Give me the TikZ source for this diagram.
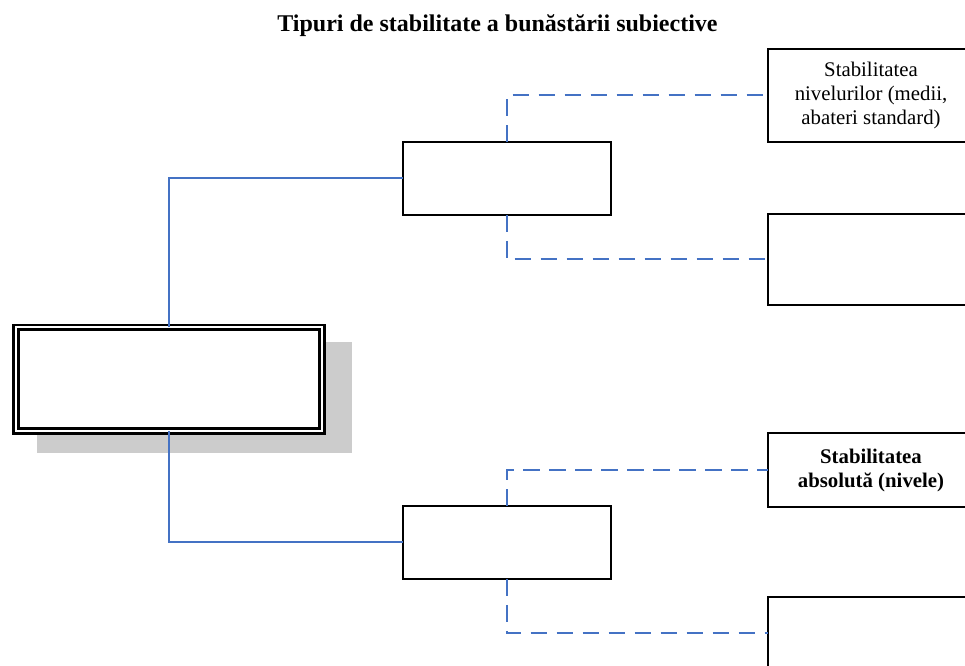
\documentclass[tikz,border=0pt]{standalone}
\usepackage{fontspec}
\setmainfont{Liberation Serif}
\definecolor{linkblue}{RGB}{68,114,196}
\definecolor{shadowgray}{RGB}{204,204,204}
\begin{document}
\begin{tikzpicture}[x=0.75pt,y=-0.75pt,
  box/.style={draw=black,line width=1.1pt,rectangle,inner sep=0pt,outer sep=0pt,anchor=north west,align=center,font=\fontsize{15.6}{18}\selectfont},
  mainbox/.style={draw=black,double=white,line width=1.9pt,double distance=1.5pt,rectangle,inner sep=0pt,outer sep=0pt,anchor=north west},
  solidlink/.style={draw=linkblue,line width=1.5pt},
  dashlink/.style={draw=linkblue,line width=1.5pt,dash pattern=on 12.5pt off 7pt}]
\useasboundingbox (0,0) rectangle (965,666);
\node[font=\bfseries\fontsize{18}{21}\selectfont,anchor=base,inner sep=0pt] (title) at (497.5,31.7) {Tipuri de stabilitate a bunăstării subiective};
% shadow
\fill[shadowgray] (37,342) rectangle (352,453);
\node[mainbox,minimum width=229.5pt,minimum height=77.8pt,fill=white] (main) at (16,327.3) {};
\node[box,minimum width=156pt,minimum height=54.75pt] (m1) at (403,142) {};
\node[box,minimum width=156pt,minimum height=54.75pt] (m2) at (403,506) {};
\node[box,minimum width=154.5pt,minimum height=69.75pt] (r1) at (768,49) {Stabilitatea\\nivelurilor (medii,\\abateri standard)};
\node[box,minimum width=154.5pt,minimum height=68.25pt] (r2) at (768,214) {};
\node[box,minimum width=154.5pt,minimum height=55.5pt,font=\bfseries\fontsize{15.6}{18}\selectfont] (r3) at (768,433) {Stabilitatea\\absolută (nivele)};
\node[box,minimum width=154.5pt,minimum height=54.75pt] (r4) at (768,597) {};
\draw[solidlink] (main.north) |- (m1.west);
\draw[solidlink] (main.south) |- (m2.west);
\draw[dashlink] (m1.north) |- (r1.west);
\draw[dashlink] (m1.south) |- (r2.west);
\draw[dashlink] (m2.north) |- (r3.west);
\draw[dashlink] (m2.south) |- (r4.west);
\end{tikzpicture}
\end{document}
